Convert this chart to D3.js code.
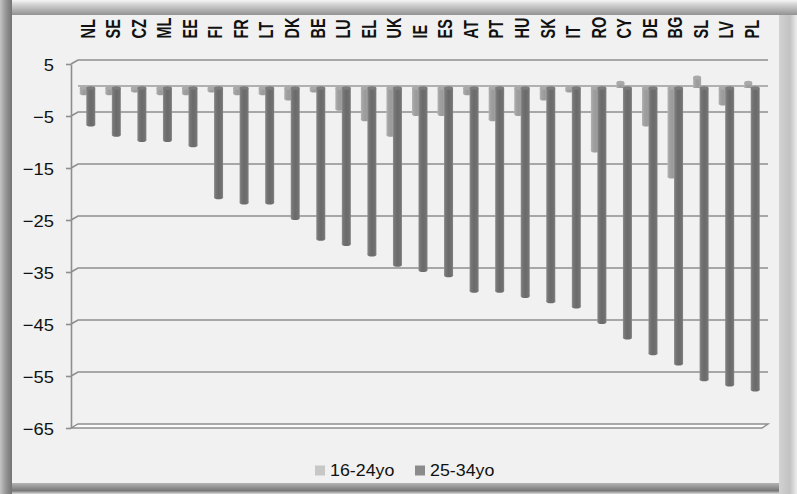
<!DOCTYPE html>
<html>
<head>
<meta charset="utf-8">
<script src="https://cdn.jsdelivr.net/npm/d3@7"></script>
<style>
  html, body { margin: 0; padding: 0; background: #ffffff; }
  svg { display: block; }
  text { font-family: "Liberation Sans", Arial, sans-serif; fill: #111; }
</style>
</head>
<body>
<script>
// Country codes, ordered by the 25-34 value
const categories = ["NL","SE","CZ","ML","EE","FI","FR","LT","DK","BE","LU","EL","UK",
                    "IE","ES","AT","PT","HU","SK","IT","RO","CY","DE","BG","SL","LV","PL"];
// Change for the 16-24 age group
const youngValues = [-1,-1,-0.5,-1,-1,-0.5,-1,-1,-2,-0.5,-4,-6,-9,
                     -5,-5,-1,-6,-5,-2,-0.5,-12,1,-7,-17,2,-3,1];
// Change for the 25-34 age group
const adultValues = [-7,-9,-10,-10,-11,-21,-22,-22,-25,-29,-30,-32,-34,
                     -35,-36,-39,-39,-40,-41,-42,-45,-48,-51,-53,-56,-57,-58];
const seriesNames = ["16-24yo","25-34yo"];
const tickValues = [5,-5,-15,-25,-35,-45,-55,-65];

const W = 797, H = 494;
const svg = d3.select("body").append("svg").attr("width", W).attr("height", H);
const defs = svg.append("defs");

function gradient(id, vertical, stops) {
  const g = defs.append("linearGradient").attr("id", id)
    .attr("x1", 0).attr("y1", 0)
    .attr("x2", vertical ? 0 : 1).attr("y2", vertical ? 1 : 0);
  stops.forEach(([o, c]) => g.append("stop").attr("offset", o).attr("stop-color", c));
}

// bevelled frame edges
gradient("edgeTop", true, [[0, "#f6f6f6"], [0.25, "#d8d8d8"], [1, "#929292"]]);
gradient("edgeLeft", false, [[0, "#c4c4c4"], [0.5, "#959595"], [1, "#737373"]]);
gradient("edgeRight", false, [[0, "#d2d2d2"], [0.6, "#c2c2c2"], [1, "#ececec"]]);
gradient("edgeBottom", true, [[0, "#b4b4b4"], [0.7, "#777777"], [1, "#dcdcdc"]]);
// cylinder shading for the two series
gradient("cylDark", false, [[0, "#8e8e8e"], [0.18, "#767676"], [0.5, "#6a6a6a"], [0.85, "#727272"], [1, "#868686"]]);
gradient("cylLight", false, [[0, "#b4b4b4"], [0.25, "#a2a2a2"], [0.6, "#9a9a9a"], [1, "#a9a9a9"]]);

svg.append("rect").attr("width", W).attr("height", H).attr("fill", "#d2d2d2");
svg.append("rect").attr("x", 0).attr("y", 483).attr("width", W).attr("height", 11).attr("fill", "url(#edgeBottom)");
svg.append("rect").attr("x", 779).attr("y", 0).attr("width", 18).attr("height", H).attr("fill", "url(#edgeRight)");
svg.append("rect").attr("x", 0).attr("y", 0).attr("width", W).attr("height", 15).attr("fill", "url(#edgeTop)");
svg.append("rect").attr("x", 0).attr("y", 0).attr("width", 12).attr("height", H).attr("fill", "url(#edgeLeft)");
svg.append("rect").attr("x", 12).attr("y", 15).attr("width", 767).attr("height", 468).attr("fill", "#f0f1f0");

// scales: bars sit mid-depth; the back wall is shifted up/right, the front edge down/left
const y = d3.scaleLinear().domain([5, -65]).range([62, 426]);
const x = d3.scaleBand().domain(categories).range([71, 761]);
const frontX = 71, backX = 78, rightX = 768;
const yBack = v => y(v) - 2;
const yFront = d3.scaleLinear().domain(y.domain()).range(y.range().map(r => r + 2));

const grid = svg.append("g").attr("stroke", "#8e8e8e").attr("stroke-width", 1.6).attr("fill", "none");

// floor at the bottom of the value range
const vMin = tickValues[tickValues.length - 1];
svg.insert("path", "g")
  .attr("d", `M${frontX},${yFront(vMin)}L${backX},${yBack(vMin)}L${rightX},${yBack(vMin)}L${rightX - 6},${yFront(vMin)}Z`)
  .attr("fill", "#fbfbfb").attr("stroke", "#8e8e8e").attr("stroke-width", 1.4);

tickValues.forEach(v => {
  if (v === vMin) return;
  grid.append("path")
    .attr("d", `M${frontX},${yFront(v)}L${backX},${yBack(v)}H${rightX}`);
});
// zero level on the back wall
grid.append("path").attr("d", `M${backX},${yBack(0)}H${rightX}`).attr("stroke", "#9a9a9a").attr("stroke-width", 1.4);

// value axis on the front edge
const axis = svg.append("g").attr("transform", `translate(${frontX},0)`)
  .call(d3.axisLeft(yFront).tickValues(tickValues).tickSize(5).tickSizeOuter(0).tickPadding(12).tickFormat(d3.format("d")));
axis.select(".domain").attr("stroke", "#8e8e8e").attr("stroke-width", 1.6);
axis.selectAll(".tick line").attr("stroke", "#8e8e8e").attr("stroke-width", 1.6);
axis.selectAll(".tick text")
  .attr("x", 0)
  .attr("transform", "translate(-17,0) scale(1.08,1)")
  .attr("font-size", 17).attr("fill", "#111")
  .attr("font-family", "'Liberation Sans', Arial, sans-serif").attr("dy", "0.36em");

// cylinders
function drawCylinders(values, offset, halfW, fill, capFill) {
  const g = svg.append("g");
  categories.forEach((c, i) => {
    const v = values[i];
    const cx = x(c) + x.bandwidth() / 2 + offset;
    const y0 = y(0), y1 = y(v);
    const top = Math.min(y0, y1), bot = Math.max(y0, y1);
    g.append("rect").attr("x", cx - halfW).attr("y", top).attr("width", halfW * 2)
      .attr("height", bot - top).attr("fill", fill);
    // rounded end away from zero
    g.append("ellipse").attr("cx", cx).attr("cy", y1).attr("rx", halfW).attr("ry", 2)
      .attr("fill", v < 0 ? fill : capFill);
    // cap at zero
    if (v < 0) {
      g.append("ellipse").attr("cx", cx).attr("cy", y0).attr("rx", halfW).attr("ry", 1.8)
        .attr("fill", capFill);
    }
  });
}
drawCylinders(youngValues, 0, 4, "url(#cylLight)", "#a9a9a9");
drawCylinders(adultValues, 7, 4.5, "url(#cylDark)", "#7c7c7c");

// category labels across the top, reading upward (glyphs widened across the line)
svg.append("g").selectAll("text").data(categories).join("text")
  .attr("transform", d => `translate(${x(d) + x.bandwidth() / 2 + 3.5},38.5) rotate(-90) scale(1,1.4)`)
  .attr("dy", "0.36em")
  .attr("text-anchor", "start")
  .attr("font-size", 14.5).attr("font-weight", "bold")
  .text(d => d);

// legend
const legend = svg.append("g");
const legendItems = [
  { name: seriesNames[0], color: "#c7c7c7", x: 315 },
  { name: seriesNames[1], color: "#8b8b8b", x: 415 }
];
legendItems.forEach(it => {
  legend.append("rect").attr("x", it.x).attr("y", 465.5).attr("width", 10).attr("height", 10).attr("fill", it.color);
  legend.append("text").attr("transform", `translate(${it.x + 15},476) scale(1.08,1)`)
    .attr("font-size", 16.5).text(it.name);
});
</script>
</body>
</html>
